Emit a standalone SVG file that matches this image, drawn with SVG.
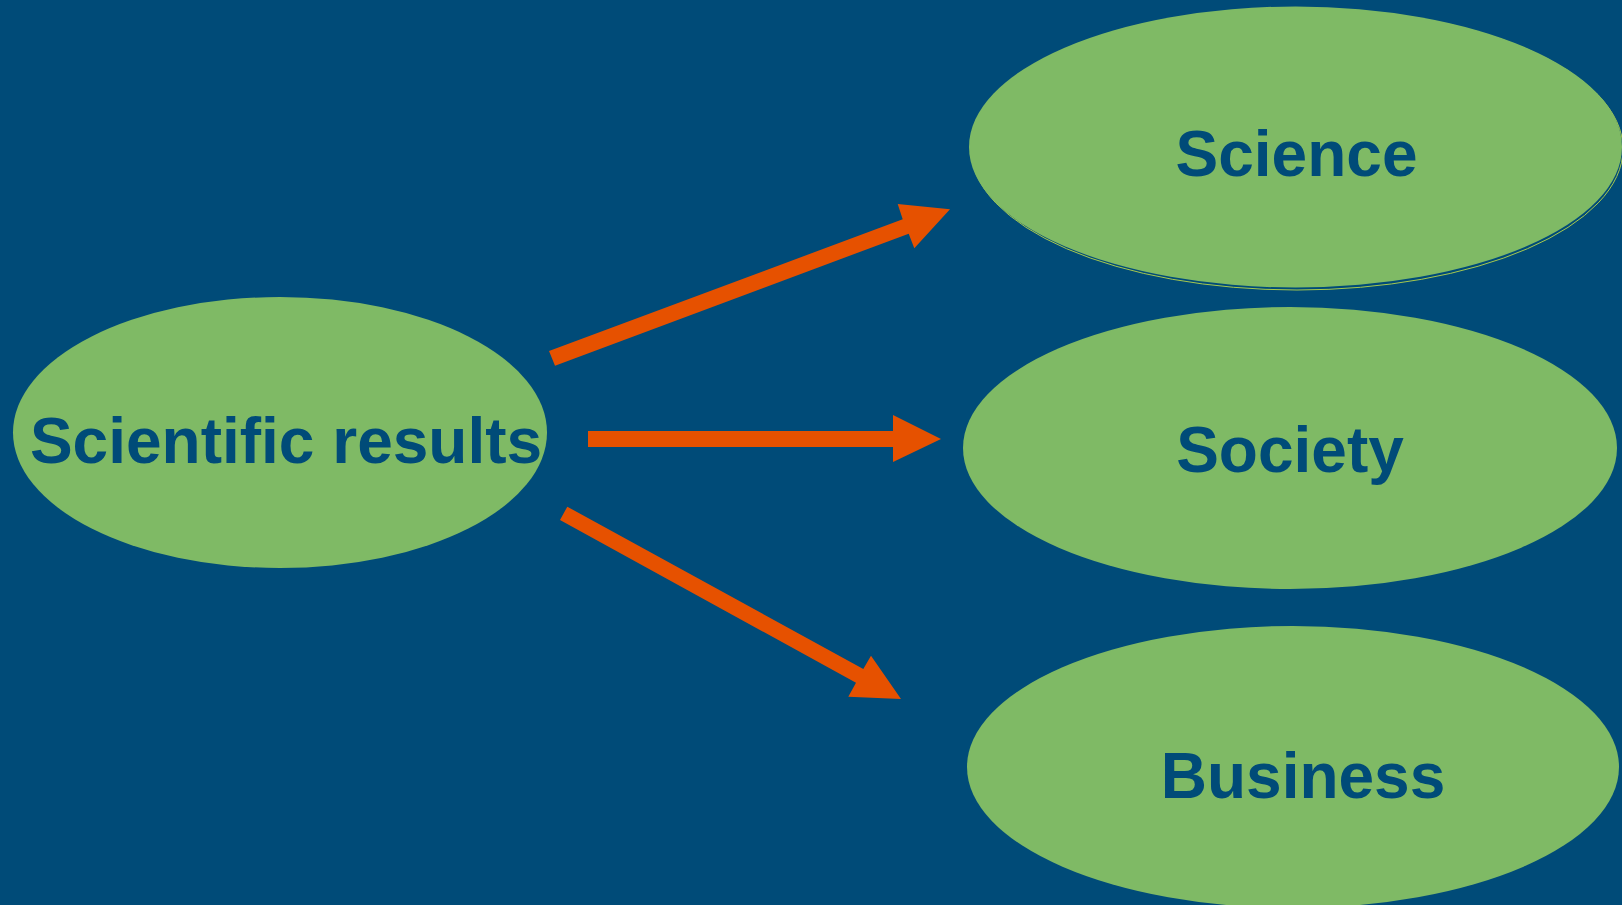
<svg xmlns="http://www.w3.org/2000/svg" width="1622" height="905" viewBox="0 0 1622 905">
<style>
.node{fill:#7FBA65}
.lbl{font-family:"Liberation Sans",Arial,sans-serif;font-weight:bold;font-size:64px;fill:#004B78;text-anchor:middle}
.arrow{fill:#E65100}
</style>
<rect x="0" y="0" width="1622" height="905" fill="#004B78"/>
<g id="node-science">
<ellipse cx="1297" cy="149" rx="326" ry="141" fill="none" stroke="#A6C84E" stroke-width="1"/>
<ellipse class="node" cx="1295.5" cy="147" rx="326.5" ry="140.5"/>
<text class="lbl" x="1296.5" y="176">Science</text>
</g>
<g id="node-society">
<ellipse class="node" cx="1290" cy="448" rx="327" ry="141"/>
<text class="lbl" x="1290" y="472">Society</text>
</g>
<g id="node-business">
<ellipse class="node" cx="1293" cy="767" rx="326" ry="141"/>
<text class="lbl" x="1303" y="798">Business</text>
</g>
<g id="node-results">
<ellipse class="node" cx="280" cy="432.5" rx="267" ry="135.5"/>
<text class="lbl" x="286" y="463">Scientific results</text>
</g>
<g id="connectors">
<polygon class="arrow" points="549,351 902.7,219.3 897.7,204 950,209.3 914.3,248.3 908.7,233.7 555,365.7"/>
<polygon class="arrow" points="588,431 893,431 893,415 941,439 893,462 893,447 588,447"/>
<polygon class="arrow" points="567.3,506.7 863.3,669 871,655.7 901,699 848.3,696.7 856,682.7 560,520"/>
</g>
</svg>
